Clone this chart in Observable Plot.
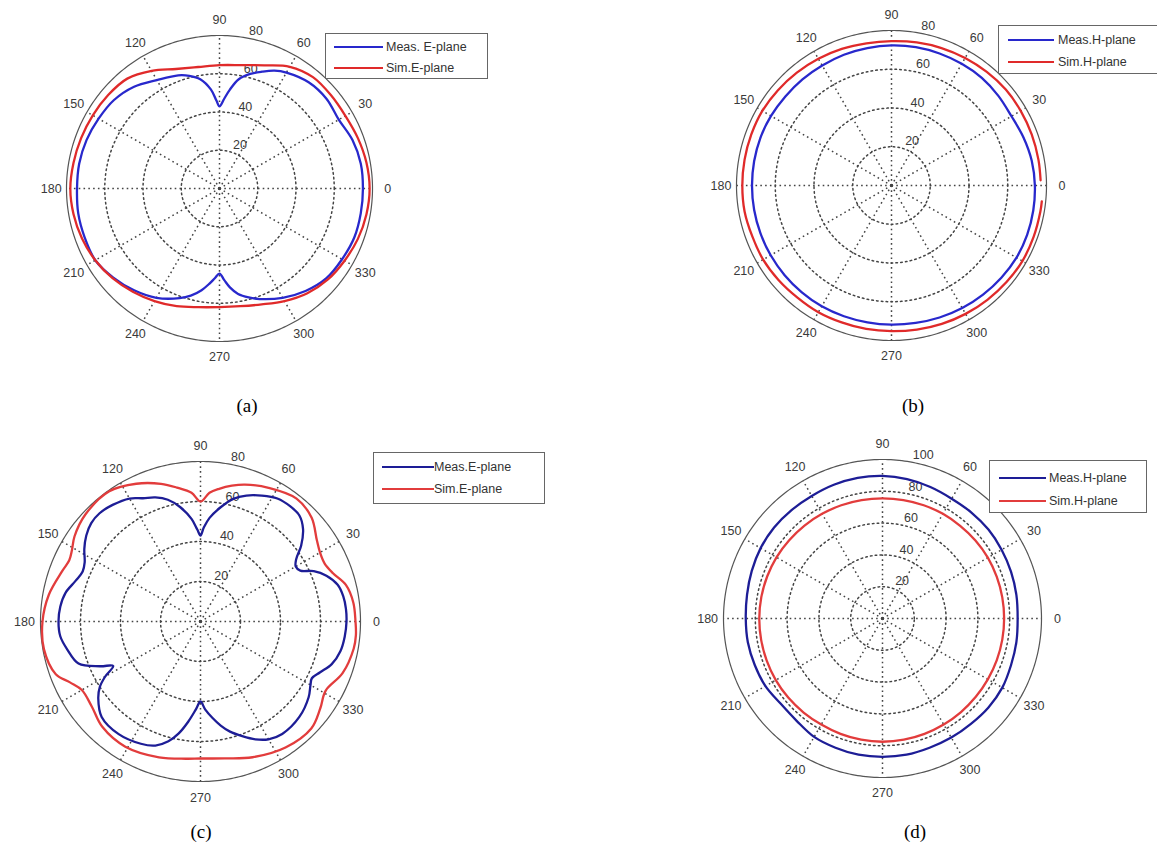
<!DOCTYPE html>
<html><head><meta charset="utf-8">
<script src="https://cdn.jsdelivr.net/npm/d3@7"></script>
<script src="https://cdn.jsdelivr.net/npm/@observablehq/plot@0.6"></script>
<style>
html,body{margin:0;padding:0;background:#fff;}
body{width:1157px;height:856px;overflow:hidden;position:relative;font-family:"Liberation Sans",Arial,sans-serif;}
.panel{position:absolute;}
.legend{position:absolute;background:#fff;border:1.3px solid #666;box-sizing:border-box;font-size:12.5px;color:#333;}
.legend .sw{position:absolute;height:2.6px;}
.legend .tx{position:absolute;line-height:14px;white-space:nowrap;}
.cap{position:absolute;font-family:"Liberation Serif","Times New Roman",serif;font-size:19px;color:#000;transform:translate(-50%,-50%);}
</style></head><body>
<script>
// ---------- data ----------
const spokeAngles = [0,30,60,90,120,150,180,210,240,270,300,330];
const ticksABC = [20,40,60,80];
const ticksD = [20,40,60,80,100];

// (a) E-plane
const angA_meas = [0,10,20,30,40,50,60,65,70,75,80,84,87,90,92,95,100,105,110,120,130,140,150,160,170,180,190,200,210,220,230,240,250,255,260,264,267,270,273,276,280,285,290,300,310,320,330,340,350];
const measA     = [75,75,74,72,73,72.5,70,68,65,62,58,52,47,43,46,52,58,61,63,65.5,69.5,72,73,74,74.5,74.5,75,75,75,72.5,69.5,66,61,58,54,50,47,44.5,48,52,56,59,61.5,66,70,73,74,75,75];
const angA_sim  = [0,10,20,30,40,50,60,70,80,90,100,110,120,130,140,150,160,170,180,190,200,210,220,230,240,250,260,270,280,290,300,310,320,330,340,350];
const simA      = [78.5,78,77,76,76,76,73.5,68.5,65.5,64.5,64.5,66.5,71,75,76,76.5,77,77.5,78,77.5,76.5,75,73,70.5,68,65.5,63,62,62.5,64.5,68,71.5,74,75.5,77,78];

// (b) H-plane
const angB_meas = [0,10,20,30,40,50,60,70,80,90,100,110,120,130,140,150,160,170,180,190,200,210,220,230,240,250,260,270,280,290,300,310,320,330,340,350];
const measB     = [74,73.5,72.5,71.5,72,72.5,72.5,72.5,72.5,72.3,72,71.8,71.5,71.5,71.5,71.8,72,72,72,72,72,72,72,72,72,71.8,71.7,71.8,72,72.5,73,73.5,74,74.5,74.5,74.3];
const angB_sim  = [2,10,20,30,40,50,60,70,80,90,100,110,120,130,140,150,160,170,180,190,200,210,220,230,240,250,260,270,280,290,300,310,320,330,340,350,354];
const simB      = [77,77,77,77,77,76.5,76,75.5,75,74.5,74.5,75,75.5,76,76.5,77,77,77,77,77,76.5,76.5,76,75.5,75.5,75.2,75.2,75.2,75.5,76,76.5,77,77.5,78,78,78,78];

// (c) E-plane
const angC_meas = [0,5,10,15,20,24,27,30,33,37,42,47,52,58,64,70,75,80,85,88,90,92,95,100,105,110,115,120,127,133,138,143,148,153,157,162,168,174,180,186,192,199,204,207,210,213,217,224,234,244,250,255,259,263,267,270,273,277,281,285,290,295,300,306,316,325,330,333,337,342,348,354];
const measC     = [73,73,72.5,71,67,62,56,55,57,63,69,72.5,73,72.5,70,67,63.5,58,52,47,43,46,51.5,58,63,66,68,71,73,74,73.5,71.5,68.5,65,64,65.7,69,70.5,71,70.5,68,64.5,55,49,55,60,64,68.7,69.6,68,66,62,57,50.5,44,40,44,48.5,53,57,61,65,68,69.5,68.7,66,63.5,62.5,65,69,71.5,72.5];
const angC_sim  = [0,7,14,20,25,30,35,43,52,63,72,77,82,86,90,94,100,106,115,125,137,146,151,155,160,170,180,190,200,205,210,218,227,239,253,264,270,280,291,304,316,324,331,340,350,355];
const simC      = [77.5,77,75,70.5,68.5,69,71,76,78,75,72,69.7,67,64.5,60,64.5,68,71.6,76,79.5,78.6,76,73.5,72.4,73.6,77,79,79.5,77,72,68.5,69,72,73,71,69,68.5,69.5,72.7,76,77,74,71.5,75.6,77.8,78];

// (d) H-plane
const angD_meas = [0,10,20,30,40,50,60,70,80,90,100,110,120,130,140,150,160,170,180,190,200,210,220,230,240,250,260,270,280,290,300,310,320,330,340,350];
const measD     = [85,85.5,86,86.5,87,87,87,88,89,89.7,89.8,89.5,89,89,89,88.5,87.5,86.5,86,86,85.5,85,83.5,84,86,86.5,87,87,87,86.5,86.5,86.5,87,87,86,85.5];
const angD_sim  = [0,10,20,30,40,50,60,70,80,90,100,110,120,130,140,150,160,170,180,190,200,210,220,230,240,250,260,270,280,290,300,310,320,330,340,350];
const simD      = [76.5,76.5,76.5,76.5,76.3,76,76,75.8,75.6,75.5,75.6,75.8,76,76.3,76.6,77,77.2,77.4,77.5,77.5,77.5,77.5,77.4,77.2,77,77.2,77.4,77.5,77.4,77.2,77,76.8,76.6,76.5,76.5,76.5];

const legendA = ["Meas. E-plane", "Sim.E-plane"];
const legendB = ["Meas.H-plane", "Sim.H-plane"];
const legendC = ["Meas.E-plane", "Sim.E-plane"];
const legendD = ["Meas.H-plane", "Sim.H-plane"];
const captions = ["(a)", "(b)", "(c)", "(d)"];

// ---------- layout ----------
const BLUE = "#2828cc", NAVY = "#1d1d96", RED = "#e02a2a", RED2 = "#e23c3c";
const panels = [
  {cx:219, cy:188, R:153, rmax:80, ticks:ticksABC,
   series:[{ang:angA_meas,val:measA,color:BLUE,closed:true},{ang:angA_sim,val:simA,color:RED,closed:true}],
   legend:{left:325,top:33,w:163,h:46,rows:[13,34],l1:8,l2:57,tx:60,labels:legendA,colors:[BLUE,RED]},
   cap:{x:247,y:406,text:captions[0]}},
  {cx:891, cy:185, R:155, rmax:80, ticks:ticksABC,
   series:[{ang:angB_meas,val:measB,color:BLUE,closed:true},{ang:angB_sim,val:simB,color:RED,closed:false}],
   legend:{left:998,top:25,w:190,h:49,rows:[14,36],l1:9,l2:55,tx:59,labels:legendB,colors:[BLUE,RED]},
   cap:{x:913,y:406,text:captions[1]}},
  {cx:199.5, cy:620.7, R:160, rmax:80, ticks:ticksABC,
   series:[{ang:angC_meas,val:measC,color:NAVY,closed:true},{ang:angC_sim,val:simC,color:RED2,closed:true}],
   legend:{left:373,top:452,w:172,h:52,rows:[14,36],l1:8,l2:60,tx:60,labels:legendC,colors:[NAVY,RED2]},
   cap:{x:201,y:832,text:captions[2]}},
  {cx:881.5, cy:618.3, R:159, rmax:100, ticks:ticksD,
   series:[{ang:angD_meas,val:measD,color:NAVY,closed:true},{ang:angD_sim,val:simD,color:RED2,closed:true}],
   legend:{left:989,top:460,w:158,h:53,rows:[17,40],l1:9,l2:56,tx:59,labels:legendD,colors:[NAVY,RED2]},
   cap:{x:915,y:832,text:captions[3]}}
];

const rad = a => a * Math.PI / 180;
const W = 384;
const circleAngles = d3.range(0, 361, 1);
const FONT = "Liberation Sans, Arial, sans-serif";

for (const p of panels) {
  const s = p.R / p.rmax;
  const half = W / 2 / s;
  const inner = p.ticks.filter(t => t < p.rmax);
  const ringPts = inner.flatMap(t => circleAngles.map(a => ({t, a})));
  const outer = circleAngles.map(a => ({a}));
  const grid = {stroke: "#444", strokeWidth: 1.5, strokeDasharray: "1.6,3.2"};
  const marks = [
    Plot.line(ringPts, {x: d => d.t * Math.cos(rad(d.a)), y: d => d.t * Math.sin(rad(d.a)), z: "t", ...grid}),
    Plot.link(spokeAngles, {x1: () => 0, y1: () => 0, x2: a => p.rmax * Math.cos(rad(a)), y2: a => p.rmax * Math.sin(rad(a)), ...grid}),
    Plot.line(outer, {x: d => p.rmax * Math.cos(rad(d.a)), y: d => p.rmax * Math.sin(rad(d.a)), stroke: "#555", strokeWidth: 1.2}),
    Plot.text(spokeAngles, {x: a => 1.1 * p.rmax * Math.cos(rad(a)), y: a => 1.1 * p.rmax * Math.sin(rad(a)), text: a => String(a), fontSize: 12.5, fill: "#3a3a3a", fontFamily: FONT}),
    Plot.text(p.ticks, {x: t => (t + 1) * Math.cos(rad(82)), y: t => (t + 1) * Math.sin(rad(82)), text: t => String(t), textAnchor: "start", lineAnchor: "bottom", dx: 8, fontSize: 12.5, fill: "#3a3a3a", fontFamily: FONT})
  ];
  for (const sr of p.series) {
    const pts = sr.ang.map((a, i) => ({a, r: sr.val[i]}));
    marks.push(Plot.line(pts, {x: d => d.r * Math.cos(rad(d.a)), y: d => d.r * Math.sin(rad(d.a)), stroke: sr.color, strokeWidth: 2.3, curve: sr.closed ? "catmull-rom-closed" : "catmull-rom"}));
  }
  const svg = Plot.plot({
    width: W, height: W, margin: 0,
    x: {domain: [-half, half], axis: null},
    y: {domain: [-half, half], axis: null},
    style: {background: "transparent", overflow: "visible"},
    marks
  });
  const wrap = document.createElement("div");
  wrap.className = "panel";
  wrap.style.left = (p.cx - W / 2) + "px";
  wrap.style.top = (p.cy - W / 2) + "px";
  wrap.appendChild(svg);
  document.body.appendChild(wrap);

  const L = p.legend;
  const lg = document.createElement("div");
  lg.className = "legend";
  Object.assign(lg.style, {left: L.left + "px", top: L.top + "px", width: L.w + "px", height: L.h + "px"});
  L.labels.forEach((lab, i) => {
    const sw = document.createElement("div");
    sw.className = "sw";
    Object.assign(sw.style, {left: L.l1 + "px", width: (L.l2 - L.l1) + "px", top: (L.rows[i] - 1.3) + "px", background: L.colors[i]});
    const tx = document.createElement("div");
    tx.className = "tx";
    tx.textContent = lab;
    Object.assign(tx.style, {left: L.tx + "px", top: (L.rows[i] - 7.5) + "px"});
    lg.appendChild(sw); lg.appendChild(tx);
  });
  document.body.appendChild(lg);

  const cap = document.createElement("div");
  cap.className = "cap";
  cap.textContent = p.cap.text;
  Object.assign(cap.style, {left: p.cap.x + "px", top: p.cap.y + "px"});
  document.body.appendChild(cap);
}
</script>
</body></html>
